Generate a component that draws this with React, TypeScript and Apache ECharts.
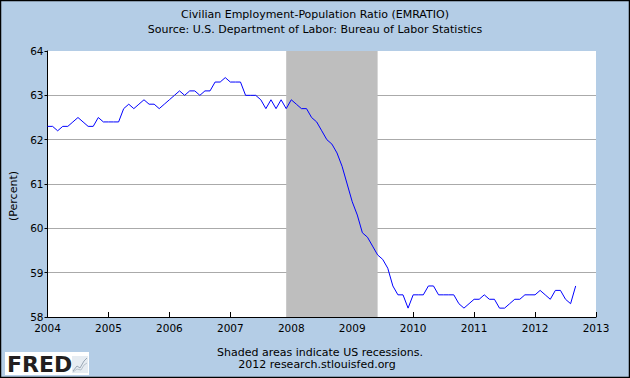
import React, { useEffect, useRef } from "react";
import * as echarts from "echarts";

// Monthly Civilian Employment-Population Ratio, Jan 2004 .. Sep 2012 (percent)
const startYear = 2004;
const ratio2004 = [62.3, 62.3, 62.2, 62.3, 62.3, 62.4, 62.5, 62.4, 62.3, 62.3, 62.5, 62.4];
const ratio2005 = [62.4, 62.4, 62.4, 62.7, 62.8, 62.7, 62.8, 62.9, 62.8, 62.8, 62.7, 62.8];
const ratio2006 = [62.9, 63.0, 63.1, 63.0, 63.1, 63.1, 63.0, 63.1, 63.1, 63.3, 63.3, 63.4];
const ratio2007 = [63.3, 63.3, 63.3, 63.0, 63.0, 63.0, 62.9, 62.7, 62.9, 62.7, 62.9, 62.7];
const ratio2008 = [62.9, 62.8, 62.7, 62.7, 62.5, 62.4, 62.2, 62.0, 61.9, 61.7, 61.4, 61.0];
const ratio2009 = [60.6, 60.3, 59.9, 59.8, 59.6, 59.4, 59.3, 59.1, 58.7, 58.5, 58.5, 58.2];
const ratio2010 = [58.5, 58.5, 58.5, 58.7, 58.7, 58.5, 58.5, 58.5, 58.5, 58.3, 58.2, 58.3];
const ratio2011 = [58.4, 58.4, 58.5, 58.4, 58.4, 58.2, 58.2, 58.3, 58.4, 58.4, 58.5, 58.5];
const ratio2012 = [58.5, 58.6, 58.5, 58.4, 58.6, 58.6, 58.4, 58.3, 58.7];

const yearTicks = [2004, 2005, 2006, 2007, 2008, 2009, 2010, 2011, 2012, 2013];
const percentTicks = [58, 59, 60, 61, 62, 63, 64];
// Recession: Dec 2007 .. Jun 2009
const recessionStart = 2007 + 11 / 12;
const recessionEnd = 2009 + 5 / 12;

const titleText = "Civilian Employment-Population Ratio (EMRATIO)";
const subtitleText = "Source: U.S. Department of Labor: Bureau of Labor Statistics";
const yAxisTitle = "(Percent)";
const footer1 = "Shaded areas indicate US recessions.";
const footer2 = "2012 research.stlouisfed.org";

const allValues = [
  ...ratio2004, ...ratio2005, ...ratio2006, ...ratio2007, ...ratio2008,
  ...ratio2009, ...ratio2010, ...ratio2011, ...ratio2012,
];
const seriesData = allValues.map((v, i) => [startYear + i / 12, v]);

const FONT = "DejaVu Sans";

export default function App() {
  const ref = useRef<HTMLDivElement>(null);
  useEffect(() => {
    if (!ref.current) return;
    const chart = echarts.init(ref.current, undefined, { renderer: "svg" });
    chart.setOption({
      animation: false,
      backgroundColor: "#B4CDE6",
      textStyle: { fontFamily: FONT },
      grid: {
        left: 47.5,
        top: 51,
        width: 548.5,
        height: 266,
        show: true,
        backgroundColor: "#ffffff",
        borderWidth: 0,
        containLabel: false,
      },
      xAxis: {
        type: "value",
        min: yearTicks[0],
        max: yearTicks[yearTicks.length - 1],
        interval: 1,
        axisLine: { show: true, lineStyle: { color: "#000", width: 1 } },
        axisTick: { show: true, inside: true, length: 5, lineStyle: { color: "#000" } },
        axisLabel: {
          color: "#000",
          fontSize: 10.5,
          fontFamily: FONT,
          margin: 5,
          formatter: (v: number) => String(Math.round(v)),
        },
        splitLine: { show: false },
      },
      yAxis: {
        type: "value",
        min: percentTicks[0],
        max: percentTicks[percentTicks.length - 1],
        interval: 1,
        axisLine: { show: true, lineStyle: { color: "#000", width: 1 } },
        axisTick: { show: true, inside: false, length: 3, lineStyle: { color: "#000" } },
        axisLabel: { color: "#000", fontSize: 10.5, fontFamily: FONT, margin: 4 },
        splitLine: {
          show: true,
          lineStyle: { color: "#AAAAAA", width: 1 },
          showMinLine: false,
          showMaxLine: false,
        },
      },
      series: [
        {
          type: "line",
          data: seriesData,
          showSymbol: false,
          symbol: "none",
          lineStyle: { color: "#0000FF", width: 1 },
          z: 3,
          markArea: {
            silent: true,
            itemStyle: { color: "#BEBEBE", opacity: 1 },
            data: [[{ xAxis: recessionStart }, { xAxis: recessionEnd }]],
          },
        },
      ],
      graphic: [
        {
          type: "rect",
          shape: { x: 0.5, y: 0.5, width: 629, height: 377 },
          style: { fill: "none", stroke: "#000", lineWidth: 1.5 },
          silent: true,
          z: 10,
        },
        {
          type: "text",
          x: 315,
          y: 14,
          style: {
            text: titleText,
            fill: "#000",
            font: `11px '${FONT}'`,
            align: "center",
            verticalAlign: "middle",
          },
        },
        {
          type: "text",
          x: 315,
          y: 29,
          style: {
            text: subtitleText,
            fill: "#000",
            font: `11px '${FONT}'`,
            align: "center",
            verticalAlign: "middle",
          },
        },
        {
          type: "text",
          x: 13,
          y: 196,
          rotation: Math.PI / 2,
          style: {
            text: yAxisTitle,
            fill: "#000",
            font: `11px '${FONT}'`,
            align: "center",
            verticalAlign: "middle",
          },
        },
        {
          type: "text",
          x: 320,
          y: 352,
          style: {
            text: footer1,
            fill: "#000",
            font: `11px '${FONT}'`,
            align: "center",
            verticalAlign: "middle",
          },
        },
        {
          type: "text",
          x: 317,
          y: 364.5,
          style: {
            text: footer2,
            fill: "#000",
            font: `11px '${FONT}'`,
            align: "center",
            verticalAlign: "middle",
          },
        },
        {
          type: "rect",
          shape: { x: 5, y: 352, width: 84, height: 23 },
          style: { fill: "#ffffff" },
        },
        {
          type: "text",
          x: 7,
          y: 364,
          style: {
            text: "FRED",
            fill: "#231F20",
            font: `bold 22px '${FONT}'`,
            align: "left",
            verticalAlign: "middle",
          },
        },
        {
          type: "rect",
          shape: { x: 72, y: 356, width: 16, height: 17 },
          style: { fill: "#E6ECF2" },
        },
        {
          type: "polyline",
          shape: { points: [[73, 371], [77, 366], [80, 368], [84, 361], [87, 358]] },
          style: { stroke: "#9AA7B5", lineWidth: 1, fill: "none" },
        },
        {
          type: "polyline",
          shape: { points: [[73, 372], [77, 369], [81, 370], [84, 365], [87, 363]] },
          style: { stroke: "#B8C2CC", lineWidth: 1, fill: "none" },
        },
      ],
    });
    return () => chart.dispose();
  }, []);
  return (
    <div
      ref={ref}
      style={{ position: "fixed", left: 0, top: 0, width: 630, height: 378 }}
    />
  );
}
